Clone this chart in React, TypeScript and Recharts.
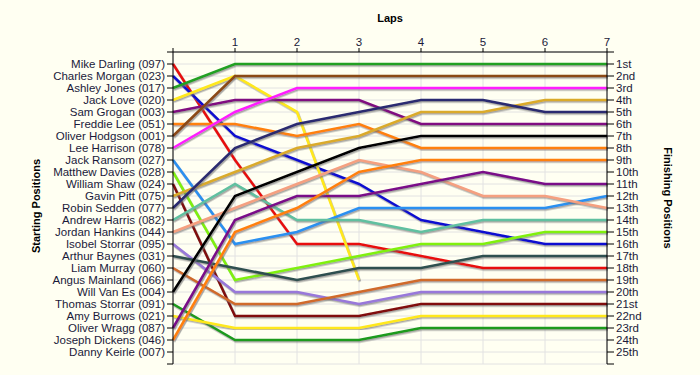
import { LineChart, Line, XAxis, YAxis, CartesianGrid } from 'recharts'

// Lap chart — starting grid on the left, finishing order on the right

const laps = [0, 1, 2, 3, 4, 5, 6, 7]

const drivers = [
  'Mike Darling (097)',
  'Charles Morgan (023)',
  'Ashley Jones (017)',
  'Jack Love (020)',
  'Sam Grogan (003)',
  'Freddie Lee (051)',
  'Oliver Hodgson (001)',
  'Lee Harrison (078)',
  'Jack Ransom (027)',
  'Matthew Davies (028)',
  'William Shaw (024)',
  'Gavin Pitt (075)',
  'Robin Sedden (077)',
  'Andrew Harris (082)',
  'Jordan Hankins (044)',
  'Isobel Storrar (095)',
  'Arthur Baynes (031)',
  'Liam Murray (060)',
  'Angus Mainland (066)',
  'Will Van Es (004)',
  'Thomas Storrar (091)',
  'Amy Burrows (021)',
  'Oliver Wragg (087)',
  'Joseph Dickens (046)',
  'Danny Keirle (007)',
]

const finishLabels = [
  '1st', '2nd', '3rd', '4th', '5th', '6th', '7th', '8th', '9th', '10th',
  '11th', '12th', '13th', '14th', '15th', '16th', '17th', '18th', '19th', '20th',
  '21st', '22nd', '23rd', '24th', '25th',
]

// position per lap (lap 0 = grid); null after retiring
const mikeDarling    = [1, 9, 16, 16, 17, 18, 18, 18]
const charlesMorgan  = [2, 7, 9, 11, 14, 15, 16, 16]
const ashleyJones    = [3, 1, 1, 1, 1, 1, 1, 1]
const jackLove       = [4, 2, 5, 19, null, null, null, null]
const samGrogan      = [5, 4, 4, 4, 6, 6, 6, 6]
const freddieLee     = [6, 6, 7, 6, 8, 8, 8, 8]
const oliverHodgson  = [7, 2, 2, 2, 2, 2, 2, 2]
const leeHarrison    = [8, 5, 3, 3, 3, 3, 3, 3]
const jackRansom     = [9, 16, 15, 13, 13, 13, 13, 12]
const matthewDavies  = [10, 19, 18, 17, 16, 16, 15, 15]
const williamShaw    = [11, 22, 22, 22, 21, 21, 21, 21]
const gavinPitt      = [12, 10, 8, 7, 5, 5, 4, 4]
const robinSedden    = [13, 8, 6, 5, 4, 4, 5, 5]
const andrewHarris   = [14, 11, 14, 14, 15, 14, 14, 14]
const jordanHankins  = [15, 13, 11, 9, 10, 12, 12, 13]
const isobelStorrar  = [16, 20, 20, 21, 20, 20, 20, 20]
const arthurBaynes   = [17, 18, 19, 18, 18, 17, 17, 17]
const liamMurray     = [18, 21, 21, 20, 19, 19, 19, 19]
const willVanEs      = [20, 12, 10, 8, 7, 7, 7, 7]
const thomasStorrar  = [21, 24, 24, 24, 23, 23, 23, 23]
const amyBurrows     = [22, 23, 23, 23, 22, 22, 22, 22]
const oliverWragg    = [23, 14, 12, 12, 11, 10, 11, 11]
const josephDickens  = [24, 15, 13, 10, 9, 9, 9, 9]

// the two position axes share one domain; the leader's line is bound to the
// right-hand axis so that it gets drawn too
const series = [
  { key: 'mikeDarling',   values: mikeDarling,   color: '#E81010', axis: 'start' },
  { key: 'charlesMorgan', values: charlesMorgan, color: '#1010D0', axis: 'start' },
  { key: 'ashleyJones',   values: ashleyJones,   color: '#20A020', axis: 'finish' },
  { key: 'jackLove',      values: jackLove,      color: '#FFE81A', axis: 'start' },
  { key: 'samGrogan',     values: samGrogan,     color: '#800A80', axis: 'start' },
  { key: 'freddieLee',    values: freddieLee,    color: '#FF8010', axis: 'start' },
  { key: 'oliverHodgson', values: oliverHodgson, color: '#8B4A14', axis: 'start' },
  { key: 'leeHarrison',   values: leeHarrison,   color: '#FF1AFF', axis: 'start' },
  { key: 'jackRansom',    values: jackRansom,    color: '#2A90F0', axis: 'start' },
  { key: 'matthewDavies', values: matthewDavies, color: '#80F010', axis: 'start' },
  { key: 'williamShaw',   values: williamShaw,   color: '#800A0A', axis: 'start' },
  { key: 'gavinPitt',     values: gavinPitt,     color: '#DAAA2A', axis: 'start' },
  { key: 'robinSedden',   values: robinSedden,   color: '#2A2A70', axis: 'start' },
  { key: 'andrewHarris',  values: andrewHarris,  color: '#60C0A0', axis: 'start' },
  { key: 'jordanHankins', values: jordanHankins, color: '#F5A080', axis: 'start' },
  { key: 'isobelStorrar', values: isobelStorrar, color: '#9878DA', axis: 'start' },
  { key: 'arthurBaynes',  values: arthurBaynes,  color: '#2F4F4F', axis: 'start' },
  { key: 'liamMurray',    values: liamMurray,    color: '#D06A2A', axis: 'start' },
  { key: 'willVanEs',     values: willVanEs,     color: '#000000', axis: 'start' },
  { key: 'thomasStorrar', values: thomasStorrar, color: '#1A9A1A', axis: 'start' },
  { key: 'amyBurrows',    values: amyBurrows,    color: '#FFE81A', axis: 'start' },
  { key: 'oliverWragg',   values: oliverWragg,   color: '#7A0A88', axis: 'start' },
  { key: 'josephDickens', values: josephDickens, color: '#FF8010', axis: 'start' },
]

const data = laps.map((lap, i) => {
  const row: Record<string, number | null> = { lap }
  series.forEach((s) => { row[s.key] = s.values[i] })
  return row
})

const posTicks = Array.from({ length: 27 }, (_, i) => i)

const font = '"Liberation Sans", Arial, sans-serif'
const tickStyle = { fill: '#1A1A3A', fontSize: 11.5, fontFamily: font }

export default function App() {
  return (
    <div style={{ position: 'absolute', left: 0, top: 0, width: 700, height: 375, background: '#FFFFF2', fontFamily: font }}>
      <LineChart width={700} height={375} data={data} margin={{ top: 22, right: 8, left: 8, bottom: 11 }}>
        <defs>
          <filter id="lineShadow" x="-10%" y="-10%" width="120%" height="120%">
            <feDropShadow dx="1" dy="1.5" stdDeviation="0.6" floodColor="#707070" floodOpacity={0.6} />
          </filter>
        </defs>
        <CartesianGrid stroke="#E2E2E2" yAxisId="start" />
        <XAxis
          dataKey="lap"
          type="number"
          orientation="top"
          domain={[0, 7]}
          ticks={laps}
          height={30}
          tick={tickStyle}
          tickSize={4}
          tickFormatter={(v: number) => (v === 0 ? '' : String(v))}
          axisLine={{ stroke: '#000' }}
          tickLine={{ stroke: '#000' }}
        />
        <YAxis
          yAxisId="start"
          type="number"
          domain={[0, 26]}
          reversed
          ticks={posTicks}
          interval={0}
          width={165}
          tick={tickStyle}
          tickSize={6}
          tickMargin={2}
          tickFormatter={(v: number) => drivers[v - 1] ?? ''}
          axisLine={{ stroke: '#000' }}
          tickLine={{ stroke: '#000' }}
        />
        <YAxis
          yAxisId="finish"
          orientation="right"
          type="number"
          domain={[0, 26]}
          reversed
          ticks={posTicks}
          interval={0}
          width={85}
          tick={tickStyle}
          tickSize={7}
          tickMargin={2}
          tickFormatter={(v: number) => finishLabels[v - 1] ?? ''}
          axisLine={{ stroke: '#000' }}
          tickLine={{ stroke: '#000' }}
        />
        {series.map((s) => (
          <Line
            key={s.key}
            yAxisId={s.axis}
            dataKey={s.key}
            type="linear"
            stroke={s.color}
            strokeWidth={2.6}
            dot={false}
            activeDot={false}
            filter="url(#lineShadow)"
            isAnimationActive={false}
          />
        ))}
      </LineChart>
      <div style={{ position: 'absolute', left: 390, top: 18, transform: 'translate(-50%, -50%)', fontSize: 11, fontWeight: 'bold', color: '#000' }}>
        Laps
      </div>
      <div style={{ position: 'absolute', left: 36, top: 206, transform: 'translate(-50%, -50%) rotate(-90deg)', fontSize: 11, fontWeight: 'bold', color: '#000', whiteSpace: 'nowrap' }}>
        Starting Positions
      </div>
      <div style={{ position: 'absolute', left: 668, top: 198, transform: 'translate(-50%, -50%) rotate(90deg)', fontSize: 11, fontWeight: 'bold', color: '#000', whiteSpace: 'nowrap' }}>
        Finishing Positions
      </div>
    </div>
  )
}
